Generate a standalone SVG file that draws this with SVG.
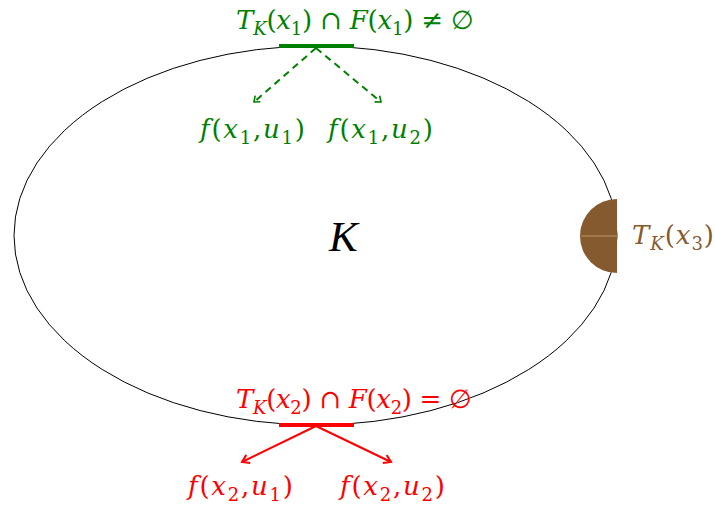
<svg xmlns="http://www.w3.org/2000/svg" width="715" height="505" viewBox="0 0 715 505">
<style>
text{font-family:"DejaVu Serif","Liberation Serif",serif;font-size:26px}
.i{font-style:italic}
.s{font-size:18px}
.g{fill:#008000}
.r{fill:#ff0000}
.b{fill:#855a2e}
</style>
<defs>
<marker id="ag" markerWidth="10" markerHeight="10" refX="8" refY="5" orient="auto" markerUnits="userSpaceOnUse">
<path d="M3,1 L8,5 L3,9" fill="none" stroke="#008000" stroke-width="1.6"/>
</marker>
<marker id="ar" markerWidth="12" markerHeight="12" refX="10" refY="6" orient="auto" markerUnits="userSpaceOnUse">
<path d="M3,1.5 L10,6 L3,10.5" fill="none" stroke="#ff0000" stroke-width="2"/>
</marker>
</defs>
<g id="K">
<ellipse cx="315.5" cy="235.5" rx="301.5" ry="189.5" fill="none" stroke="#000" stroke-width="1"/>
<text x="329" y="251" class="i" style="font-family:'Liberation Serif',serif;font-size:43px">K</text>
</g>
<g id="x3">
<path d="M617,199 A37,37 0 0 0 617,273 Z" fill="#855a2e"/>
<line x1="581" y1="236" x2="617" y2="236" stroke="#c8a47e" stroke-width="0.8"/>
<text x="632" y="244" class="b" textLength="82" lengthAdjust="spacing"><tspan class="i">T</tspan><tspan class="i s" dy="6">K</tspan><tspan dy="-6">(</tspan><tspan class="i">x</tspan><tspan class="s" dy="6">3</tspan><tspan dy="-6">)</tspan></text>
</g>
<g id="x1">
<line x1="279" y1="46" x2="354" y2="46" stroke="#008000" stroke-width="4"/>
<text x="236" y="29" class="g" textLength="238" lengthAdjust="spacing"><tspan class="i">T</tspan><tspan class="i s" dy="6">K</tspan><tspan dy="-6">(</tspan><tspan class="i">x</tspan><tspan class="s" dy="6">1</tspan><tspan dy="-6">) ∩ </tspan><tspan class="i">F</tspan><tspan>(</tspan><tspan class="i">x</tspan><tspan class="s" dy="6">1</tspan><tspan dy="-6">) ≠ ∅</tspan></text>
</g>
<g id="x2">
<line x1="279" y1="425" x2="354" y2="425" stroke="#ff0000" stroke-width="4"/>
<text x="236" y="408" class="r" textLength="236" lengthAdjust="spacing"><tspan class="i">T</tspan><tspan class="i s" dy="6">K</tspan><tspan dy="-6">(</tspan><tspan class="i">x</tspan><tspan class="s" dy="6">2</tspan><tspan dy="-6">) ∩ </tspan><tspan class="i">F</tspan><tspan>(</tspan><tspan class="i">x</tspan><tspan class="s" dy="6">2</tspan><tspan dy="-6">) = ∅</tspan></text>
</g>
<g id="f11"><text x="200" y="138" class="g" textLength="105" lengthAdjust="spacing"><tspan class="i">f</tspan><tspan>(</tspan><tspan class="i">x</tspan><tspan class="s" dy="6">1</tspan><tspan dy="-6">,</tspan><tspan class="i">u</tspan><tspan class="s" dy="6">1</tspan><tspan dy="-6">)</tspan></text></g>
<g id="f12"><text x="328" y="138" class="g" textLength="105" lengthAdjust="spacing"><tspan class="i">f</tspan><tspan>(</tspan><tspan class="i">x</tspan><tspan class="s" dy="6">1</tspan><tspan dy="-6">,</tspan><tspan class="i">u</tspan><tspan class="s" dy="6">2</tspan><tspan dy="-6">)</tspan></text></g>
<g id="f21"><text x="188" y="495" class="r" textLength="105" lengthAdjust="spacing"><tspan class="i">f</tspan><tspan>(</tspan><tspan class="i">x</tspan><tspan class="s" dy="6">2</tspan><tspan dy="-6">,</tspan><tspan class="i">u</tspan><tspan class="s" dy="6">1</tspan><tspan dy="-6">)</tspan></text></g>
<g id="f22"><text x="340" y="495" class="r" textLength="105" lengthAdjust="spacing"><tspan class="i">f</tspan><tspan>(</tspan><tspan class="i">x</tspan><tspan class="s" dy="6">2</tspan><tspan dy="-6">,</tspan><tspan class="i">u</tspan><tspan class="s" dy="6">2</tspan><tspan dy="-6">)</tspan></text></g>
<g id="connectors">
<line x1="316" y1="48" x2="254" y2="102" stroke="#008000" stroke-width="2" stroke-dasharray="7,5" marker-end="url(#ag)"/>
<line x1="316" y1="48" x2="381" y2="102" stroke="#008000" stroke-width="2" stroke-dasharray="7,5" marker-end="url(#ag)"/>
<line x1="316" y1="426" x2="242" y2="462" stroke="#ff0000" stroke-width="2" marker-end="url(#ar)"/>
<line x1="316" y1="426" x2="391" y2="462" stroke="#ff0000" stroke-width="2" marker-end="url(#ar)"/>
</g>
</svg>
